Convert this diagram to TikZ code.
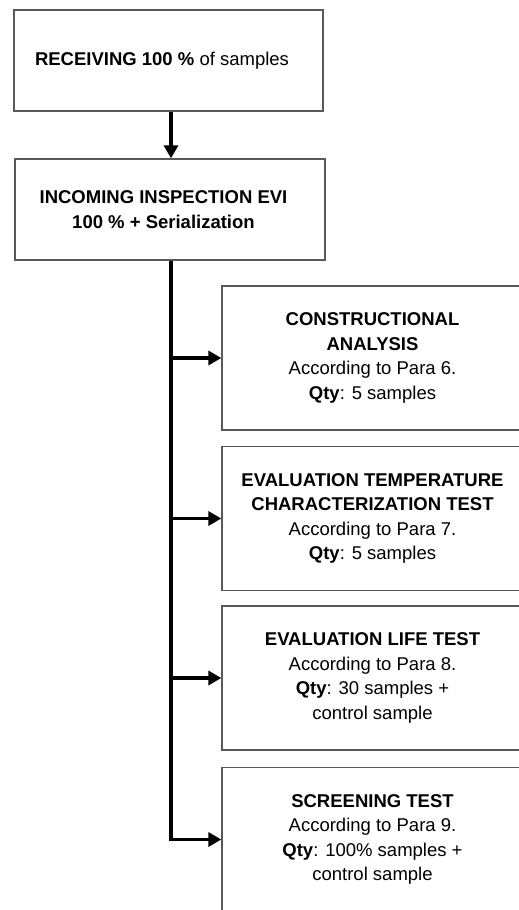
\documentclass[tikz,border=0pt]{standalone}
\usepackage{fontspec}
\setmainfont{Liberation Sans}
\usetikzlibrary{arrows.meta}
\tikzset{
  box/.style={draw=black!65, line width=1.3pt, rectangle, align=center,
    font=\fontsize{18.5}{24.5}\selectfont},
  topbox/.style={box, minimum width=309, minimum height=101},
  testbox/.style={box, minimum width=301, minimum height=144},
  flow/.style={line width=3.2pt, -{Triangle[length=13pt,width=14pt]}},
}
\begin{document}
\begin{tikzpicture}[x=1pt,y=1pt]
    \useasboundingbox (0,0) rectangle (519,-910);
    \clip (0,0) rectangle (519,-910);
    % top column
    \node[topbox] (recv) at (168.5,-60.5) {\textbf{RECEIVING 100 \%} of samples\hspace*{13pt}};
    \node[topbox, minimum width=310] (evi) at (170,-209.5)
        {\textbf{INCOMING INSPECTION EVI}\hspace*{13pt}\\\textbf{100 \% + Serialization}\hspace*{13pt}};
    \coordinate (trunk) at (171,-260);
    % test boxes
    \node[testbox] (ca) at (372.5,-358)
        {\textbf{CONSTRUCTIONAL}\\\textbf{ANALYSIS}\\According to Para 6.\\\textbf{Qty}: 5 samples};
    \node[testbox] (etct) at (372.5,-518.5)
        {\textbf{EVALUATION TEMPERATURE}\\\textbf{CHARACTERIZATION TEST}\\According to Para 7.\\\textbf{Qty}: 5 samples};
    \node[testbox] (elt) at (372.5,-678)
        {\textbf{EVALUATION LIFE TEST}\\According to Para 8.\\\textbf{Qty}: 30 samples +\\control sample};
    \node[testbox] (scr) at (372.5,-839.5)
        {\textbf{SCREENING TEST}\\According to Para 9.\\\textbf{Qty}: 100\% samples +\\control sample};
    % connectors
    \draw[flow] (recv.south -| trunk) -- (evi.north -| trunk);
    \draw[flow] (evi.south -| trunk) -- (trunk |- scr.west) -- (scr.west);
    \foreach \b in {ca,etct,elt} {
        \draw[flow] (trunk |- \b.west) -- (\b.west);
    }
\end{tikzpicture}
\end{document}
